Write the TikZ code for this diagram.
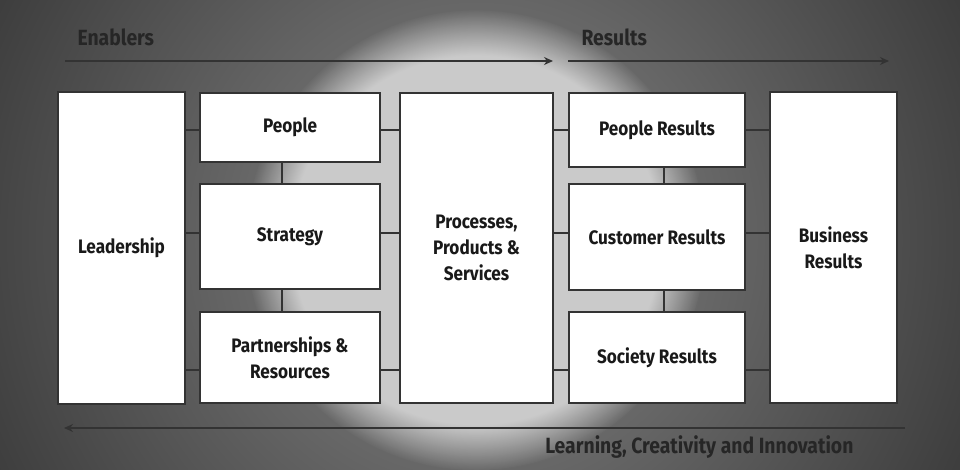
\documentclass[tikz,border=0pt]{standalone}
\usepackage{fontspec}
\setmainfont{Fira Sans}[FakeStretch=0.88]
\usetikzlibrary{arrows.meta,fadings}
\definecolor{edge}{HTML}{333333}
\definecolor{bgdark}{HTML}{3A3A3A}
\definecolor{bgmid}{HTML}{7A7A7A}
\definecolor{bglight}{HTML}{CACACA}
\begin{document}
\begin{tikzpicture}[x=1pt,y=-1pt,
  box/.style={draw=edge,line width=2pt,fill=white,inner sep=0pt,align=center,font=\bfseries\fontsize{19.5}{26}\selectfont,text=black!90},
  conn/.style={draw=edge,line width=2pt},
  arr/.style={draw=edge,line width=2pt,-{Stealth[length=9pt,width=8pt]}},
  lbl/.style={font=\bfseries\fontsize{22}{24}\selectfont,text=black!85,anchor=base west}]
\useasboundingbox (0,0) rectangle (960,470);
\fill[bgdark] (0,0) rectangle (960,470);
\shade[inner color=bgmid!90!white,outer color=bgdark] (476,240) circle (560);
\fill[bglight,path fading=circle with fuzzy edge 20 percent] (476,240) circle (230);
% nodes
\node[box,minimum width=127pt,minimum height=311pt] (lead) at (121.5,248) {Leadership};
\node[box,minimum width=180pt,minimum height=69pt] (ppl) at (290,127.5) {People};
\node[box,minimum width=180pt,minimum height=105pt] (str) at (290,236.5) {Strategy};
\node[box,minimum width=180pt,minimum height=91pt] (par) at (290,357.5) {Partnerships \&\\Resources};
\node[box,minimum width=153pt,minimum height=310pt] (proc) at (476.5,248) {Processes,\\Products \&\\Services};
\node[box,minimum width=176pt,minimum height=74pt] (pr) at (657,130) {People Results};
\node[box,minimum width=176pt,minimum height=106pt] (cr) at (657,237) {Customer Results};
\node[box,minimum width=176pt,minimum height=91pt] (sr) at (657,357.5) {Society Results};
\node[box,minimum width=127pt,minimum height=311pt] (bus) at (833.5,247.5) {Business\\Results};
% connectors
\draw[conn] (lead.east|-0,130) -- (ppl.west|-0,130);
\draw[conn] (lead.east|-0,233) -- (str.west|-0,233);
\draw[conn] (lead.east|-0,370) -- (par.west|-0,370);
\draw[conn] (ppl.east|-0,130) -- (proc.west|-0,130);
\draw[conn] (str.east|-0,233) -- (proc.west|-0,233);
\draw[conn] (par.east|-0,370) -- (proc.west|-0,370);
\draw[conn] (proc.east|-0,130) -- (pr.west|-0,130);
\draw[conn] (proc.east|-0,233) -- (cr.west|-0,233);
\draw[conn] (proc.east|-0,370) -- (sr.west|-0,370);
\draw[conn] (pr.east|-0,130) -- (bus.west|-0,130);
\draw[conn] (cr.east|-0,233) -- (bus.west|-0,233);
\draw[conn] (sr.east|-0,370) -- (bus.west|-0,370);
\draw[conn] (ppl.south-|282,0) -- (str.north-|282,0);
\draw[conn] (str.south-|282,0) -- (par.north-|282,0);
\draw[conn] (pr.south-|664,0) -- (cr.north-|664,0);
\draw[conn] (cr.south-|664,0) -- (sr.north-|664,0);
% arrows
\coordinate (e1) at (65,61); \coordinate (e2) at (553,61);
\coordinate (r1) at (568,61); \coordinate (r2) at (889,61);
\coordinate (l1) at (905,428); \coordinate (l2) at (64,428);
\draw[arr] (e1) -- (e2);
\draw[arr] (r1) -- (r2);
\draw[arr] (l1) -- (l2);
\node[lbl] (en) at (74,46) {Enablers};
\node[lbl] (re) at (578,46) {Results};
\node[lbl,anchor=base east] (lci) at (857,453) {Learning, Creativity and Innovation};
\end{tikzpicture}
\end{document}
